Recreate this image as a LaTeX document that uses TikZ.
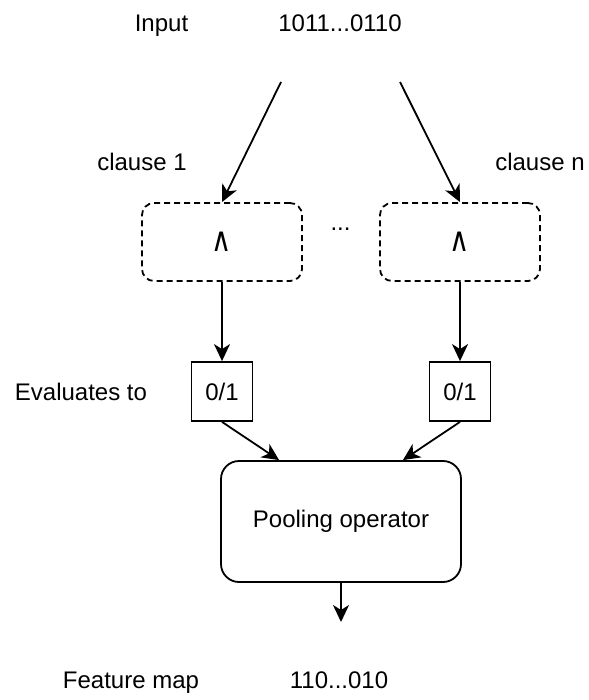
\documentclass[tikz,border=0pt]{standalone}
\usepackage{fontspec}
\setmainfont{Liberation Sans}
\newfontfamily\symfont{DejaVu Sans}
\usetikzlibrary{arrows.meta}
\newcommand{\andsym}{\scalebox{1.15}[1.4]{\symfont\fontsize{24}{28}\selectfont ∧}}
\tikzset{
  lbl/.style={inner sep=0pt, font=\fontsize{24}{28}\selectfont, anchor=base},
  arr/.style={draw, line width=1.8pt, -{Stealth[length=17pt, width=16pt, inset=5pt]}},
  clausebox/.style={draw, dashed, dash pattern=on 6pt off 4pt, line width=1.8pt,
    rounded corners=12pt, minimum width=160pt, minimum height=78pt, inner sep=0pt},
  valbox/.style={draw, line width=1.8pt, minimum width=61pt, minimum height=59pt,
    inner sep=0pt, font=\fontsize{24}{28}\selectfont},
  poolbox/.style={draw, line width=1.8pt, rounded corners=18pt, minimum width=240pt,
    minimum height=121pt, inner sep=0pt, font=\fontsize{24}{28}\selectfont},
}
\begin{document}
\begin{tikzpicture}[x=1pt, y=-1pt]
  \useasboundingbox (0,0) rectangle (588,700);

  % input row
  \node[lbl] (input) at (161.5,32) {Input};
  \node[lbl] (inbits) at (340,32) {1011...0110};
  \coordinate (s1) at (281,82);
  \coordinate (s2) at (400,82);

  % clauses
  \node[clausebox] (c1) at (222,242) {\andsym};
  \node[clausebox] (c2) at (460,242) {\andsym};
  \node[lbl] (dots) at (340.5,231) {...};
  \node[lbl] (cl1) at (142,171) {clause 1};
  \node[lbl] (cln) at (540,171) {clause n};

  \draw[arr] (s1) -- (c1.north);
  \draw[arr] (s2) -- (c2.north);

  % clause values
  \node[valbox] (v1) at (222,391.5) {0/1};
  \node[valbox] (v2) at (460,391.5) {0/1};
  \node[lbl] (eval) at (81,400) {Evaluates to};

  \draw[arr] (c1.south) -- (v1.north);
  \draw[arr] (c2.south) -- (v2.north);

  % pooling
  \node[poolbox] (pool) at (341,521.5) {Pooling operator};
  \draw[arr] (v1.south) -- ([xshift=59pt]pool.north west);
  \draw[arr] (v2.south) -- ([xshift=-59pt]pool.north east);

  \coordinate (out) at (341,622);
  \draw[arr] (pool.south) -- (out);

  % output row
  \node[lbl] (fmap) at (131,688) {Feature map};
  \node[lbl] (fbits) at (339,688) {110...010};
\end{tikzpicture}
\end{document}
